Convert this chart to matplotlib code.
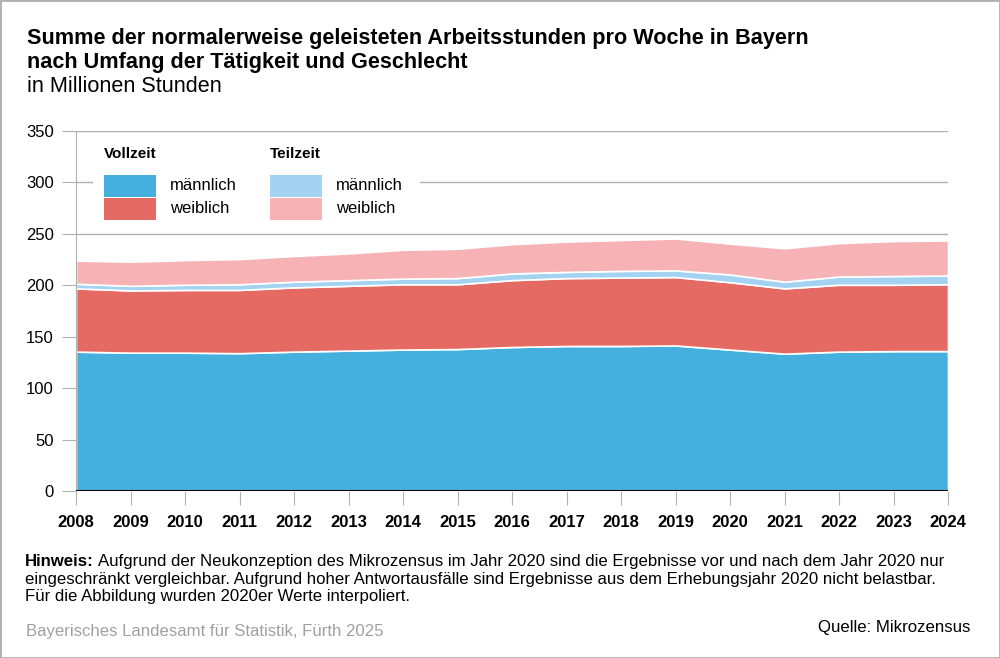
import matplotlib.pyplot as plt
from matplotlib.patches import Rectangle

plt.rcParams['font.family'] = ['Liberation Sans', 'DejaVu Sans']

years = list(range(2008, 2025))
# Millionen Stunden pro Woche
vollzeit_m = [135.5, 134.5, 134.5, 134, 135.5, 136.5, 137.5, 138, 140, 141, 141, 141.5, 137.5, 133.5, 135.5, 136, 136]
vollzeit_w = [61.5, 60.5, 61, 61.5, 62.5, 63, 63.5, 63, 65, 66, 66.5, 66.5, 65.5, 63.5, 65, 64.5, 65]
teilzeit_m = [4.5, 4.5, 5, 5.5, 5.5, 5.5, 5.5, 6, 6.5, 6, 6.5, 6.5, 7.5, 6.5, 8, 8.5, 8.5]
teilzeit_w = [22.5, 23.5, 24, 24.5, 25, 26, 28, 28.5, 28.5, 29.5, 30, 31, 30, 32.5, 32.5, 34, 34]

colors = ['#45b0dd', '#e46a63', '#a3d3f1', '#f6b2b5']
yticks = [0, 50, 100, 150, 200, 250, 300, 350]

fig = plt.figure(figsize=(10, 6.58), dpi=100)
ax = fig.add_axes([0.076, 0.2538, 0.872, 0.5471])

polys = ax.stackplot(years, vollzeit_m, vollzeit_w, teilzeit_m, teilzeit_w,
                     colors=colors, edgecolor='white', linewidth=1.2, zorder=2)

ax.set_xlim(2008, 2024)
ax.set_ylim(0, 350)
ax.set_yticks(yticks)
ax.set_xticks(years)
ax.grid(axis='y', color='#b0b0b0', linewidth=1, zorder=0)
ax.axhline(0, color='black', linewidth=1.5, zorder=3)
for s in ['top', 'right', 'bottom']:
    ax.spines[s].set_visible(False)
ax.spines['left'].set_color('#b0b0b0')
ax.tick_params(axis='y', length=10, color='#b0b0b0', labelsize=12, pad=6)
ax.tick_params(axis='x', length=10, color='#b0b0b0', labelsize=12, pad=7)
for lab in ax.get_xticklabels():
    lab.set_fontweight('bold')

# Legende
ax.add_patch(Rectangle((0.02, 0.735), 0.375, 0.24, transform=ax.transAxes,
                       facecolor='white', edgecolor='none', zorder=4))
groups = [('Vollzeit', 0.032, colors[0], colors[1]), ('Teilzeit', 0.222, colors[2], colors[3])]
for title, x0, c_m, c_w in groups:
    ax.text(x0, 0.935, title, transform=ax.transAxes, fontsize=11, fontweight='bold',
            va='center', ha='left', zorder=5)
    ax.add_patch(Rectangle((x0, 0.817), 0.06, 0.062, transform=ax.transAxes,
                           facecolor=c_m, edgecolor='none', zorder=5))
    ax.add_patch(Rectangle((x0, 0.753), 0.06, 0.062, transform=ax.transAxes,
                           facecolor=c_w, edgecolor='none', zorder=5))
    ax.text(x0 + 0.076, 0.849, 'männlich', transform=ax.transAxes, fontsize=12,
            va='center', ha='left', zorder=5)
    ax.text(x0 + 0.076, 0.785, 'weiblich', transform=ax.transAxes, fontsize=12,
            va='center', ha='left', zorder=5)

# Titel
fig.text(0.027, 0.933, 'Summe der normalerweise geleisteten Arbeitsstunden pro Woche in Bayern',
         fontsize=15.6, fontweight='bold', va='baseline')
fig.text(0.027, 0.896, 'nach Umfang der Tätigkeit und Geschlecht',
         fontsize=15.6, fontweight='bold', va='baseline')
fig.text(0.027, 0.860, 'in Millionen Stunden', fontsize=15.6, va='baseline')

# Hinweis
note_y = [0.140, 0.113, 0.086]
fig.text(0.025, note_y[0], 'Hinweis:', fontsize=12.1, fontweight='bold', va='baseline')
fig.text(0.098, note_y[0], 'Aufgrund der Neukonzeption des Mikrozensus im Jahr 2020 sind die Ergebnisse vor und nach dem Jahr 2020 nur',
         fontsize=12.1, va='baseline')
fig.text(0.025, note_y[1], 'eingeschränkt vergleichbar. Aufgrund hoher Antwortausfälle sind Ergebnisse aus dem Erhebungsjahr 2020 nicht belastbar.',
         fontsize=12.1, va='baseline')
fig.text(0.025, note_y[2], 'Für die Abbildung wurden 2020er Werte interpoliert.',
         fontsize=12.1, va='baseline')
fig.text(0.026, 0.033, 'Bayerisches Landesamt für Statistik, Fürth 2025', fontsize=12.1,
         color='#a0a0a0', va='baseline')
fig.text(0.970, 0.039, 'Quelle: Mikrozensus', fontsize=12.1, ha='right', va='baseline')

fig.patches.append(Rectangle((0, 0), 1, 1, transform=fig.transFigure, fill=False,
                             edgecolor='#b0b0b0', linewidth=2))

fig.savefig('out.png', dpi=100)
